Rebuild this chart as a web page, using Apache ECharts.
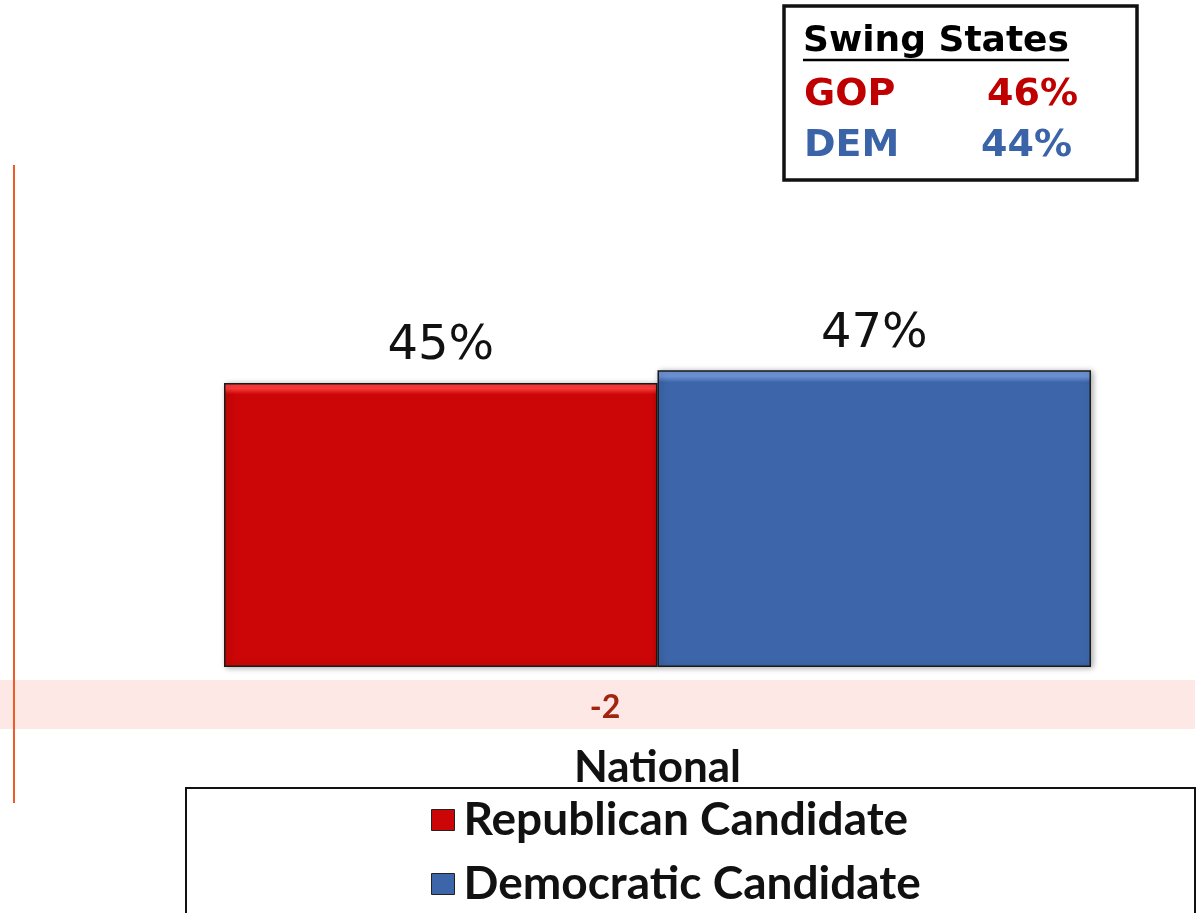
<!DOCTYPE html>
<html>
<head>
<meta charset="utf-8">
<script src="https://cdn.jsdelivr.net/npm/echarts@6/dist/echarts.min.js"></script>
<style>
  html, body { margin: 0; padding: 0; background: #fff; }
  #main { width: 1204px; height: 913px; }
</style>
</head>
<body>
<div id="main"></div>
<script>
// data
const categories = ['National'];
const seriesNames = ['Republican Candidate', 'Democratic Candidate'];
const gopValues = [45];
const demValues = [47];
const swingLabels = ['GOP', 'DEM'];
const swingValues = ['46%', '44%'];

const FONT = 'Lato, "Noto Sans", sans-serif';
const WIDE = '"DejaVu Sans", sans-serif';
const RED = '#cc0606';
const BLUE = '#3d66aa';

const chart = echarts.init(document.getElementById('main'));

// margin shown in the pink band (GOP minus DEM)
const margin = gopValues[0] - demValues[0];

// flat fill with a thin lighter top edge, like the bevel in the original
const bevel = (top, base) => new echarts.graphic.LinearGradient(0, 0, 0, 1, [
  { offset: 0, color: top },
  { offset: 0.02, color: top },
  { offset: 0.04, color: base },
  { offset: 1, color: base }
]);

const barStyle = (top, base) => ({
  color: bevel(top, base),
  borderColor: '#1a1a1a',
  borderWidth: 1.5,
  shadowColor: 'rgba(0,0,0,0.35)',
  shadowBlur: 6,
  shadowOffsetX: 2,
  shadowOffsetY: 1
});

const barLabel = {
  show: true,
  position: 'top',
  distance: 12,
  formatter: '{c}%',
  fontSize: 48,
  fontFamily: WIDE,
  color: '#111'
};

const options = {
  animation: false,
  color: [RED, BLUE],
  grid: { left: 224, right: 113, top: 162, bottom: 246 },
  xAxis: {
    type: 'category',
    data: categories,
    axisLine: { show: false },
    axisTick: { show: false },
    axisLabel: {
      margin: 79,
      fontSize: 44,
      fontFamily: FONT,
      fontWeight: 'bold',
      color: '#111'
    }
  },
  yAxis: {
    type: 'value',
    min: 0,
    max: 80,
    show: false,
    splitLine: { show: false }
  },
  legend: {
    orient: 'vertical',
    left: 431,
    top: 797,
    padding: 0,
    itemWidth: 23,
    itemHeight: 21,
    itemGap: 18,
    icon: 'rect',
    itemStyle: { borderColor: '#222', borderWidth: 1 },
    textStyle: {
      fontSize: 46,
      lineHeight: 46,
      fontFamily: FONT,
      fontWeight: 'bold',
      color: '#111',
      padding: [0, 0, 0, 4]
    },
    data: seriesNames
  },
  series: [
    {
      name: seriesNames[0],
      type: 'bar',
      data: gopValues,
      barGap: '0%',
      barCategoryGap: '0%',
      itemStyle: barStyle('#ff3b3b', RED),
      label: barLabel
    },
    {
      name: seriesNames[1],
      type: 'bar',
      data: demValues,
      barGap: '0%',
      barCategoryGap: '0%',
      itemStyle: barStyle('#6f95d8', BLUE),
      label: barLabel
    }
  ],
  graphic: [
    // orange rule on the left
    { type: 'line', z: 1, shape: { x1: 14, y1: 165, x2: 14, y2: 803 }, style: { stroke: '#f05a28', lineWidth: 2 } },
    // pink band with the margin
    { type: 'rect', z: 0, shape: { x: 0, y: 680, width: 1195, height: 49 }, style: { fill: '#fde8e6' } },
    {
      type: 'text', z: 2, x: 605, y: 708,
      style: {
        text: String(margin), fill: '#a0240e', font: 'bold 32px ' + FONT,
        align: 'center', verticalAlign: 'middle'
      }
    },
    // legend frame
    { type: 'rect', z: 0, shape: { x: 186, y: 788, width: 1009, height: 140 }, style: { fill: '#fff', stroke: '#111', lineWidth: 2 } },
    // swing states box
    { type: 'rect', z: 1, shape: { x: 784, y: 6, width: 353, height: 174 }, style: { fill: '#fff', stroke: '#111', lineWidth: 3.5 } },
    {
      type: 'text', z: 2, x: 803, y: 42,
      style: { text: 'Swing States', fill: '#000', font: 'bold 36px ' + WIDE, verticalAlign: 'middle' }
    },
    { type: 'line', z: 2, shape: { x1: 803, y1: 60, x2: 1069, y2: 60 }, style: { stroke: '#000', lineWidth: 2.5 } },
    {
      type: 'text', z: 2, x: 804, y: 95,
      style: { text: swingLabels[0], fill: '#c00000', font: 'bold 38px ' + WIDE, verticalAlign: 'middle' }
    },
    {
      type: 'text', z: 2, x: 1078, y: 95,
      style: { text: swingValues[0], fill: '#c00000', font: 'bold 38px ' + WIDE, align: 'right', verticalAlign: 'middle' }
    },
    {
      type: 'text', z: 2, x: 804, y: 146,
      style: { text: swingLabels[1], fill: '#3a63a8', font: 'bold 38px ' + WIDE, verticalAlign: 'middle' }
    },
    {
      type: 'text', z: 2, x: 1072, y: 146,
      style: { text: swingValues[1], fill: '#3a63a8', font: 'bold 38px ' + WIDE, align: 'right', verticalAlign: 'middle' }
    }
  ]
};

chart.setOption(options);
</script>
</body>
</html>
